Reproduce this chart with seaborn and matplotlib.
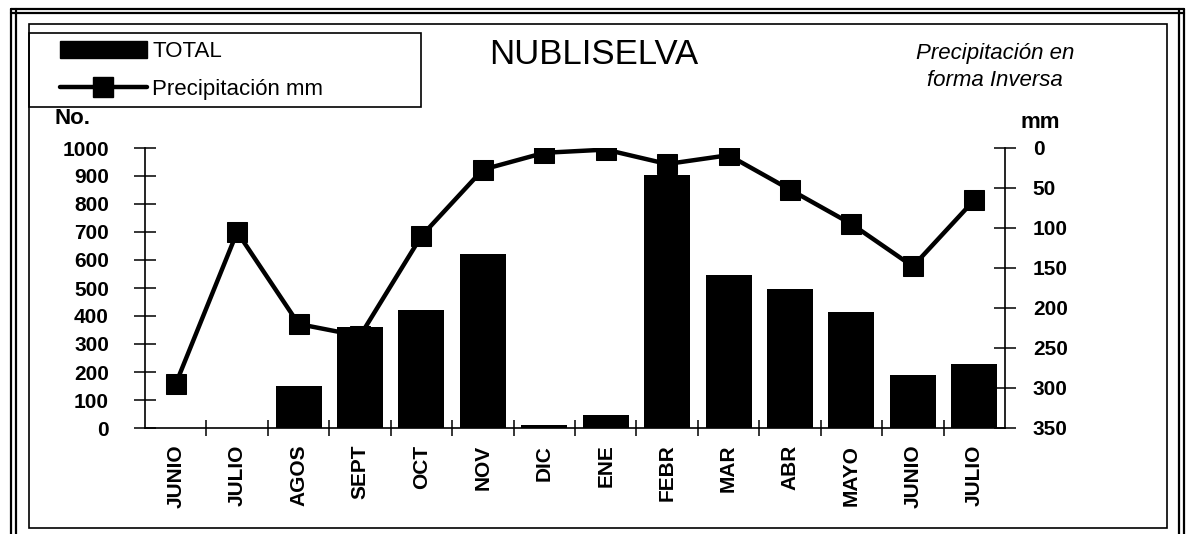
import numpy as np
import pandas as pd
import matplotlib.pyplot as plt
import seaborn as sns
from matplotlib.lines import Line2D
from matplotlib.patches import Patch, Rectangle

# data
months = ["JUNIO", "JULIO", "AGOS", "SEPT", "OCT", "NOV", "DIC", "ENE",
          "FEBR", "MAR", "ABR", "MAYO", "JUNIO", "JULIO"]
total = [0, 0, 150, 360, 420, 620, 10, 45, 905, 545, 495, 415, 190, 230]
precip_mm = [295, 105, 220, 235, 110, 27, 6, 2, 20, 9, 52, 95, 148, 65]
left_ticks = list(range(0, 1001, 100))
right_ticks = list(range(0, 351, 50))

W, H = 1186, 534


def fx(px):
    return px / W


def fy(py):
    return 1 - py / H


sns.set_style("white")
plt.rcParams["font.family"] = ["Liberation Sans", "DejaVu Sans"]
plt.rcParams["text.color"] = "black"

fig = plt.figure(figsize=(W / 100, H / 100), dpi=100)
ax = fig.add_axes([fx(145), fy(428), fx(1005) - fx(145), fy(148) - fy(428)])
ax2 = ax.twinx()

df = pd.DataFrame({"pos": np.arange(len(months)), "total": total, "mm": precip_mm})

sns.barplot(data=df, x="pos", y="total", color="black", width=0.75,
            saturation=1, edgecolor="black", linewidth=0, ax=ax)
sns.lineplot(data=df, x="pos", y="mm", color="black", lw=3.2, marker="s",
             markersize=14, mec="black", ax=ax2)

ax.set_ylim(0, 1000)
ax2.set_ylim(350, 0)
ax.set_xlim(-0.5, len(months) - 0.5)
# bars drawn over the line (SEPT point is hidden behind its bar)
ax.set_zorder(ax2.get_zorder() + 1)
ax.patch.set_visible(False)

for s in ["top", "right"]:
    ax.spines[s].set_visible(False)
for s in ["top", "left", "bottom"]:
    ax2.spines[s].set_visible(False)
for a in (ax, ax2):
    for sp in a.spines.values():
        sp.set_color("black")
        sp.set_linewidth(1.2)
    a.set_xlabel("")
    a.set_ylabel("")

ax.set_yticks(left_ticks)
ax2.set_yticks(right_ticks)
ax.tick_params(axis="y", direction="inout", length=16, width=1.1, pad=18,
               labelsize=15, left=True, colors="black")
ax2.tick_params(axis="y", direction="inout", length=16, width=1.1, pad=12,
                labelsize=15, right=True, colors="black")

ax.set_xticks(range(len(months)))
ax.set_xticklabels(months, rotation=90, fontsize=15, fontweight="bold")
ax.set_xticks(np.arange(0.5, len(months) - 1), minor=True)
ax.tick_params(axis="x", which="major", length=0, pad=12, colors="black")
ax.tick_params(axis="x", which="minor", direction="inout", length=11,
               width=1.1, bottom=True, colors="black")
for lab in ax.get_yticklabels() + ax2.get_yticklabels():
    lab.set_fontweight("bold")

# texts
fig.text(fx(73), fy(119), "No.", ha="center", va="center", fontsize=16, fontweight="bold")
fig.text(fx(1040), fy(122), "mm", ha="center", va="center", fontsize=16, fontweight="bold")
fig.text(fx(594), fy(54), "NUBLISELVA", ha="center", va="center", fontsize=25)
fig.text(fx(995), fy(53), "Precipitación en", ha="center", va="center",
         fontsize=16, style="italic")
fig.text(fx(995), fy(81), "forma Inversa", ha="center", va="center",
         fontsize=16, style="italic")

# legend
handles = [Patch(facecolor="black", edgecolor="black"),
           Line2D([], [], color="black", lw=3.2, marker="s", markersize=14)]
fig.legend(handles, ["TOTAL", "Precipitación mm"], loc="upper left",
           bbox_to_anchor=(fx(60), fy(41)), frameon=False, fontsize=16,
           handlelength=3.9, handleheight=0.8, handletextpad=0.25,
           labelspacing=0.75, borderpad=0, borderaxespad=0)

# frames of the scanned page
fig.add_artist(Rectangle((fx(29), fy(528)), fx(1167) - fx(29), fy(24) - fy(528),
                         fill=False, lw=1.2, ec="black", transform=fig.transFigure))
fig.add_artist(Rectangle((fx(29), fy(107)), fx(421) - fx(29), fy(33) - fy(107),
                         fill=False, lw=1.2, ec="black", transform=fig.transFigure))
for x in (11, 16, 1179, 1184):
    fig.add_artist(Line2D([fx(x), fx(x)], [fy(9), 0], color="black", lw=1.6,
                          transform=fig.transFigure))
for y in (9, 13):
    fig.add_artist(Line2D([fx(11), fx(1184)], [fy(y), fy(y)], color="black", lw=1.6,
                          transform=fig.transFigure))

fig.savefig("out.png", dpi=100)
